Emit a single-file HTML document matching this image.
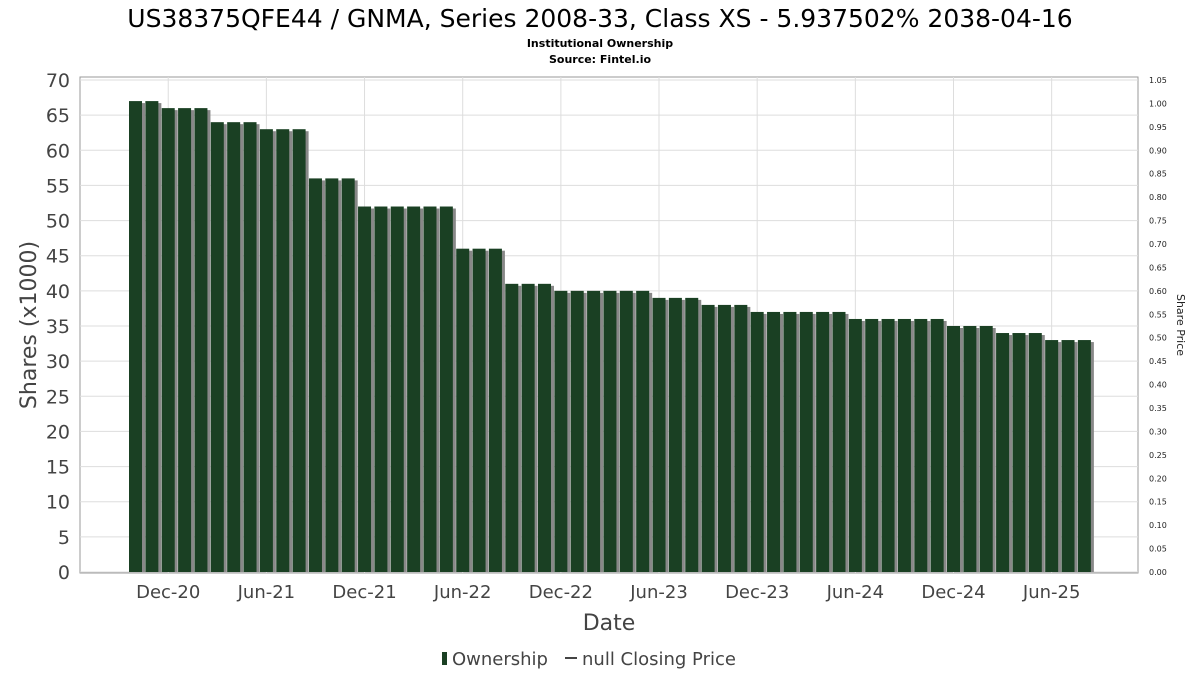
<!DOCTYPE html>
<html><head><meta charset="utf-8"><style>
body{margin:0;background:#fff;font-family:"DejaVu Sans","Liberation Sans",sans-serif;}
</style></head><body>
<svg width="1200" height="675" xmlns="http://www.w3.org/2000/svg">
<text x="600" y="27" text-anchor="middle" font-size="25" fill="#000">US38375QFE44 / GNMA, Series 2008-33, Class XS - 5.937502% 2038-04-16</text>
<text x="600" y="47" text-anchor="middle" font-size="11" font-weight="bold">Institutional Ownership</text>
<text x="600" y="63" text-anchor="middle" font-size="11" font-weight="bold">Source: Fintel.io</text>
<rect x="80" y="77" width="1058" height="496" fill="#fff" stroke="#999"/>
<g id="grid"></g><g id="bars"></g><g id="axes"></g>
<text transform="translate(36,325) rotate(-90)" text-anchor="middle" font-size="22" fill="#444">Shares (x1000)</text>
<text transform="translate(1177,325) rotate(90)" text-anchor="middle" font-size="11" fill="#222">Share Price</text>
<text x="609" y="630" text-anchor="middle" font-size="22" fill="#444">Date</text>
<g>
<rect x="442" y="652" width="5" height="13" fill="#1a4023"/>
<text x="452" y="665" font-size="18" fill="#444">Ownership</text>
<line x1="565" y1="658" x2="577" y2="658" stroke="#444" stroke-width="2"/>
<text x="582" y="665" font-size="18" fill="#444">null Closing Price</text>
</g>
</svg>
<script>
const values=[67,67,66,66,66,64,64,64,63,63,63,56,56,56,52,52,52,52,52,52,46,46,46,41,41,41,40,40,40,40,40,40,39,39,39,38,38,38,37,37,37,37,37,37,36,36,36,36,36,36,35,35,35,34,34,34,33,33,33];
const yTicks=[0,5,10,15,20,25,30,35,40,45,50,55,60,65,70];
const rightTicks=["0.00","0.05","0.10","0.15","0.20","0.25","0.30","0.35","0.40","0.45","0.50","0.55","0.60","0.65","0.70","0.75","0.80","0.85","0.90","0.95","1.00","1.05"];
const xLabels=["Dec-20","Jun-21","Dec-21","Jun-22","Dec-22","Jun-23","Dec-23","Jun-24","Dec-24","Jun-25"];
const xLabelIdx=[2,8,14,20,26,32,38,44,50,56];
const NS="http://www.w3.org/2000/svg";
const y=v=>572-v*(492/70);
const yr=i=>572-i*(492/21);
const xc=i=>135.5+i*16.36;
function mk(t,a,p){const e=document.createElementNS(NS,t);for(const k in a)e.setAttribute(k,a[k]);p.appendChild(e);return e;}
const g=document.getElementById('grid'),b=document.getElementById('bars'),ax=document.getElementById('axes');
yTicks.forEach(v=>{
 const l=mk('line',{x1:80,x2:1138,y1:y(v),y2:y(v),stroke:'#ddd'},g);
 
 
 const t=mk('text',{x:70,y:y(v)+7,'text-anchor':'end','font-size':19,fill:'#444'},ax);
 t.textContent=v;
 
 
});
rightTicks.forEach((s,i)=>{
 const t=mk('text',{x:1149,y:yr(i)+3,'font-size':8,fill:'#222'},ax);
 t.textContent=s;
 
 
});
xLabelIdx.forEach((idx,k)=>{
 const x=xc(idx);
 const l=mk('line',{x1:x,x2:x,y1:77,y2:573,stroke:'#ddd'},g);
 
 
 const t=mk('text',{x:x,y:598,'text-anchor':'middle','font-size':18,fill:'#444'},ax);
 t.textContent=xLabels[k];
 
 
});
values.forEach((v,i)=>{
 const x=xc(i)-6.5;
 const s=mk('rect',{x:x+3,y:y(v)+2,width:13,height:572-y(v)-2,fill:'#888'},b);
 
 
 const r=mk('rect',{x:x,y:y(v),width:13,height:572-y(v),fill:'#1a4023'},b);
 
 
});
</script>
</body></html>
